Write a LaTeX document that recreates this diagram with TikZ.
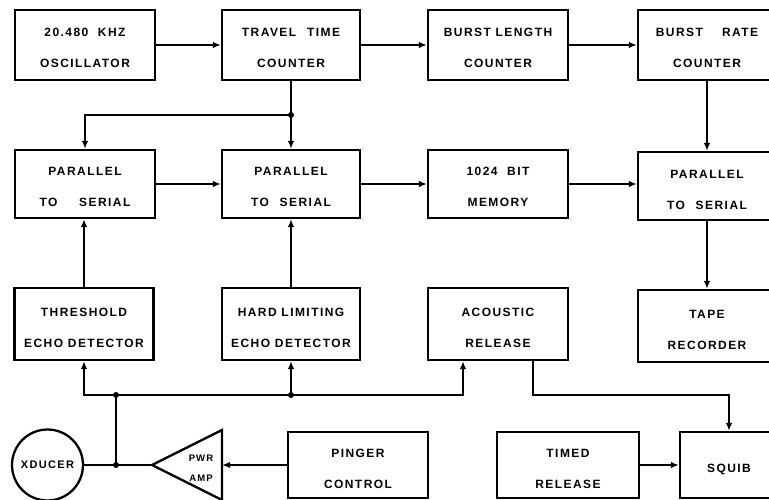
\documentclass[tikz,border=0pt]{standalone}
\usepackage{fontspec}
\setsansfont{Liberation Sans}[LetterSpace=12]
\usetikzlibrary{arrows.meta}
\begin{document}
\begin{tikzpicture}[x=1pt,y=-1pt,
  box/.style={draw, line width=2.3pt, minimum width=140pt, minimum height=70pt,
    align=center, inner sep=0pt, text height=46pt, text depth=0pt,
    font=\sffamily\bfseries\fontsize{12}{31}\selectfont},
  ln/.style={line width=2.3pt},
  arr/.style={ln, -{Latex[length=8pt,width=6.5pt]}},
  jdot/.style={circle, fill, inner sep=0pt, minimum size=6pt}]
\useasboundingbox (0,0) rectangle (769,500);
\clip (0,0) rectangle (769,500);
% row 1
\node[box] (osc) at (85,45) {20.480\hspace{0.8em}KHZ\\OSCILLATOR};
\node[box, minimum width=138pt] (travel) at (291,45) {TRAVEL\hspace{0.9em}TIME\\COUNTER};
\node[box] (blen) at (498,45) {BURST LENGTH\\COUNTER};
\node[box, minimum width=138pt] (brate) at (707,45) {BURST\hspace{1.6em}RATE\\COUNTER};
% row 2
\node[box, minimum height=68pt] (pts1) at (85,184) {PARALLEL\\TO\hspace{1.8em}SERIAL};
\node[box, minimum width=138pt, minimum height=68pt] (pts2) at (291,184) {PARALLEL\\TO\hspace{0.9em}SERIAL};
\node[box, minimum height=68pt] (mem) at (498,184) {1024\hspace{0.8em}BIT\\MEMORY};
\node[box, minimum width=138pt, minimum height=68pt] (pts3) at (707,186) {PARALLEL\\TO\hspace{0.9em}SERIAL};
% row 3
\node[box, minimum width=139pt, minimum height=72pt] (thr) at (84,324) {THRESHOLD\\ECHO DETECTOR};
\node[box, minimum width=138pt, minimum height=72pt] (hard) at (291,324) {HARD LIMITING\\ECHO DETECTOR};
\node[box, minimum height=72pt] (acou) at (498,324) {ACOUSTIC\\RELEASE};
\node[box, minimum width=138pt, minimum height=72pt] (tape) at (707,326) {TAPE\\RECORDER};
% row 4
\node[box, minimum height=66pt] (ping) at (358,465) {PINGER\\CONTROL};
\node[box, minimum width=142pt, minimum height=66pt] (timed) at (568,465) {TIMED\\RELEASE};
\node[box, minimum width=98pt, minimum height=66pt, text height=14pt] (squib) at (729,465) {SQUIB};
\node[draw, circle, line width=2.3pt, minimum size=71pt, inner sep=0pt,
  font=\sffamily\bfseries\fontsize{11}{12}\selectfont] (xd) at (47.5,465) {XDUCER};
% power amplifier triangle
\coordinate (ampapex) at (152,465);
\coordinate (amptop) at (222,430);
\coordinate (ampbot) at (222,500);
\coordinate (ampin) at (222,465);
\draw[ln, line join=miter] (ampapex) -- (amptop) -- (ampbot) -- cycle;
\node[align=center, inner sep=0pt, font=\sffamily\bfseries\fontsize{9.5}{20}\selectfont] (amp) at (201,468) {PWR\\AMP};
% row 1 connectors
\draw[arr] (osc) -- (travel);
\draw[arr] (travel) -- (blen);
\draw[arr] (blen) -- (brate);
% travel time counter to parallel-to-serial
\coordinate (jt) at (291,115);
\draw[arr] (travel.south) -- (pts2.north);
\draw[arr] (jt) -| (pts1.north);
\node[jdot] (jtd) at (jt) {};
% row 2 connectors
\draw[arr] (pts1) -- (pts2);
\draw[arr] (pts2) -- (mem);
\draw[arr] (mem.east) -- (mem.east -| pts3.west);
\draw[arr] (brate.south) -- (pts3.north);
\draw[arr] (pts3.south) -- (tape.north);
% detectors up
\draw[arr] (thr.north) -- (thr.north |- pts1.south);
\draw[arr] (hard.north) -- (pts2.south);
% bus
\coordinate (j1) at (116,465);
\coordinate (j2) at (116,395);
\coordinate (j3) at (291,395);
\draw[ln] (xd.east) -- (ampapex);
\draw[ln] (j1) -- (j2);
\draw[arr] (j2) -| (thr.south);
\draw[arr] (j2) -| ([xshift=-35pt]acou.south);
\draw[arr] (j3) -- (hard.south);
\node[jdot] (j1d) at (j1) {};
\node[jdot] (j2d) at (j2) {};
\node[jdot] (j3d) at (j3) {};
% pinger to amplifier
\draw[arr] (ping.west) -- (ampin);
% acoustic release to squib
\draw[arr] ([xshift=35pt]acou.south) |- (j2 -| squib.north) -- (squib.north);
% timed release to squib
\draw[arr] (timed) -- (squib);
\end{tikzpicture}
\end{document}
